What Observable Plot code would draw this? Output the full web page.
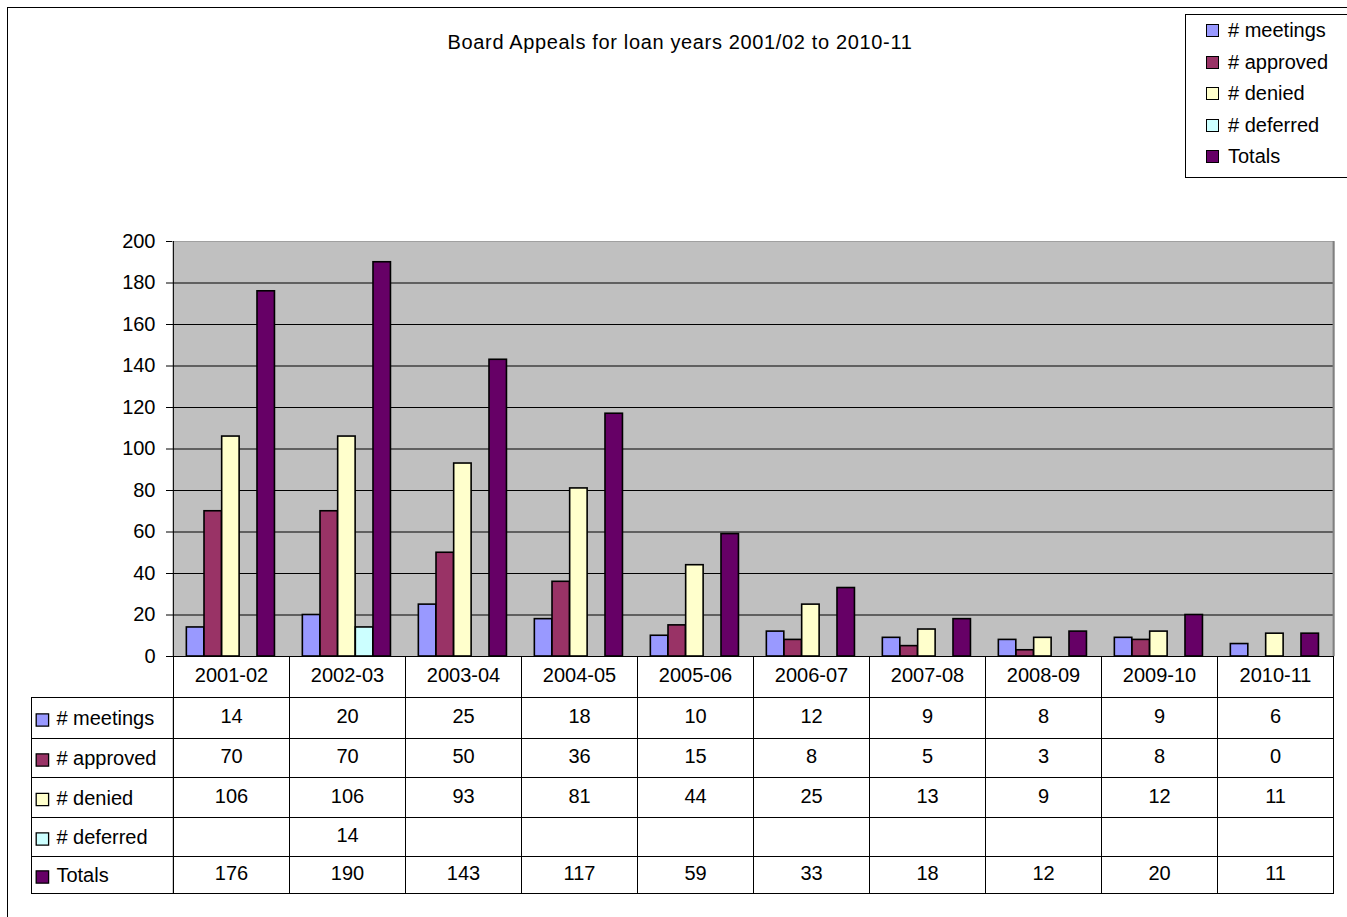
<!DOCTYPE html>
<html><head><meta charset="utf-8">
<script src="https://cdn.jsdelivr.net/npm/d3@7"></script>
<script src="https://cdn.jsdelivr.net/npm/@observablehq/plot@0.6"></script>
<style>
body{margin:0;background:#fff;font-family:"Liberation Sans",Arial,sans-serif;}
#wrap{position:relative;width:1347px;height:917px;overflow:hidden;background:#fff;}
#chart{position:absolute;left:0;top:0;}
#border{position:absolute;left:7px;top:7px;width:1400px;height:1000px;border:1px solid #000;pointer-events:none;}
#title{position:absolute;top:31px;left:680px;transform:translateX(-50%);font-size:20px;white-space:nowrap;letter-spacing:0.65px;color:#000;}
#legend{position:absolute;left:1185px;top:14px;width:200px;height:162px;border:1px solid #000;background:#fff;}
.item{position:absolute;left:0;height:24px;line-height:24px;font-size:20px;white-space:nowrap;color:#000;}
.sw{position:absolute;left:20px;top:6px;width:11px;height:11px;border:1px solid #000;}
.lt{position:absolute;left:42px;top:0;}
</style>
</head><body>
<div id="wrap">
  <div id="chart"></div>
  <div id="border"></div>
  <div id="title"></div>
  <div id="legend"></div>
</div>
<script>
const titleText = "Board Appeals for loan years 2001/02 to 2010-11";
const years = ["2001-02","2002-03","2003-04","2004-05","2005-06","2006-07","2007-08","2008-09","2009-10","2010-11"];
const meetings = [14,20,25,18,10,12,9,8,9,6];
const approved = [70,70,50,36,15,8,5,3,8,0];
const denied = [106,106,93,81,44,25,13,9,12,11];
const deferred = [null,14,null,null,null,null,null,null,null,null];
const totals = [176,190,143,117,59,33,18,12,20,11];
const seriesNames = ["# meetings","# approved","# denied","# deferred","Totals"];
const seriesColors = ["#9999FF","#993366","#FFFFCC","#CCFFFF","#660066"];
const seriesValues = [meetings, approved, denied, deferred, totals];
const yTicks = [0,20,40,60,80,100,120,140,160,180,200];

// layout
const W = 1347, H = 917, mL = 172, mR = 13, mT = 241, mB = 261;
const bw = (W - mL - mR) / years.length;
const step = bw * 0.152;
const outer = (bw - step * seriesNames.length) / 2 - 0.6;
const rowEdges = [0, 41, 82, 121, 161, 200, 237];
const labelW = 142;
const font = "'Liberation Sans', Arial, sans-serif";

document.getElementById("title").textContent = titleText;
const legend = document.getElementById("legend");
seriesNames.forEach((n, i) => {
  const it = document.createElement("div");
  it.className = "item";
  it.style.top = (3 + i * 31.5) + "px";
  it.innerHTML = `<span class="sw" style="background:${seriesColors[i]}"></span><span class="lt"></span>`;
  it.querySelector(".lt").textContent = n;
  legend.appendChild(it);
});

const marks = [];
marks.push(Plot.frame({fill: "#C0C0C0"}));
marks.push(Plot.ruleY(yTicks.filter(v => v > 0 && v < 200), {stroke: "#000"}));
marks.push(Plot.ruleY([200], {stroke: "#A0A0A0"}));
marks.push(Plot.ruleX([years[years.length - 1]], {x: d => d, dx: bw / 2, y1: 0, y2: 200, stroke: "#808080", strokeWidth: 2}));

// bars
seriesValues.forEach((vals, i) => {
  const data = years.map((y, j) => ({year: y, value: vals[j]})).filter(d => d.value != null && d.value > 0);
  marks.push(Plot.barY(data, {
    x: "year", y: "value",
    fill: seriesColors[i], stroke: "#000", strokeWidth: 1.6,
    insetLeft: outer + i * step, insetRight: bw - outer - (i + 1) * step
  }));
});

// table cells
for (let r = 0; r < rowEdges.length - 1; r++) {
  marks.push(Plot.barY(years, {
    x: d => d, y1: () => 0, y2: () => 0,
    insetTop: rowEdges[r], insetBottom: -rowEdges[r + 1],
    fill: "none", stroke: "#000", dx: 0.5, dy: 0.5
  }));
  if (r > 0) {
    marks.push(Plot.barY([years[0]], {
      x: d => d, y1: () => 0, y2: () => 0,
      insetTop: rowEdges[r], insetBottom: -rowEdges[r + 1],
      insetLeft: -labelW, insetRight: bw,
      fill: "none", stroke: "#000", dx: 0.5, dy: 0.5
    }));
  }
}

// table row labels, swatches and values
seriesValues.forEach((vals, i) => {
  const cy = (rowEdges[i + 1] + rowEdges[i + 2]) / 2;
  marks.push(Plot.dot([seriesNames[i]], {
    x: () => years[0], y: () => 0, dx: -bw / 2 - 131, dy: cy + 2,
    symbol: "square", r: 7, fill: seriesColors[i], stroke: "#000", strokeWidth: 1.3
  }));
  marks.push(Plot.text([seriesNames[i]], {
    x: () => years[0], y: () => 0, text: d => d, dx: -bw / 2 - 117, dy: cy + 1,
    textAnchor: "start", fontSize: 20, fill: "#000"
  }));
  const data = years.map((y, j) => ({year: y, value: vals[j]})).filter(d => d.value != null);
  marks.push(Plot.text(data, {
    x: "year", y: () => 0, text: d => String(d.value), dy: cy - 1,
    fontSize: 20, fill: "#000"
  }));
});

// axes
marks.push(Plot.ruleY([0], {stroke: "#000"}));
marks.push(Plot.ruleX([years[0]], {x: d => d, dx: -bw / 2, y1: 0, y2: 200, stroke: "#000"}));
marks.push(Plot.axisY({ticks: yTicks, tickSize: 6, tickPadding: 11, fontSize: 20, label: null, stroke: "#000", fill: "#000"}));
marks.push(Plot.axisX({tickSize: 0, tickPadding: 11, fontSize: 20, label: null, fill: "#000"}));

const chart = Plot.plot({
  width: W, height: H,
  marginLeft: mL, marginRight: mR, marginTop: mT, marginBottom: mB,
  style: {fontFamily: font, fontSize: "20px", background: "transparent", color: "#000"},
  x: {domain: years, padding: 0, label: null},
  y: {domain: [0, 200], label: null},
  marks
});
document.getElementById("chart").appendChild(chart);
</script>
</body></html>
